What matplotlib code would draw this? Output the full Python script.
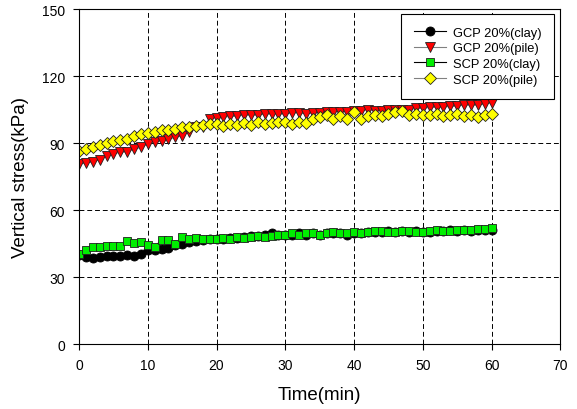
import matplotlib
matplotlib.use("Agg")
import matplotlib.pyplot as plt
import numpy as np

plt.rcParams['font.family'] = ['Liberation Sans', 'DejaVu Sans']

time_min = np.arange(0, 61)

gcp_clay = [40, 38.8, 38.5, 39, 39.5, 39.5, 39.5, 40, 39.5, 40.5, 42,
            42, 42.5, 43, 44.5, 45, 45.5, 46, 46.5, 47, 47,
            47, 47.5, 47.5, 48, 48.5, 48.5, 49, 49.5, 49, 49,
            49, 49.5, 49, 49.5, 49, 49.5, 49.5, 49.5, 49, 49.5,
            49.5, 50, 50, 50, 50.5, 50, 50.5, 50, 50.5, 50,
            50, 50.5, 50.5, 51, 50.5, 51, 50.5, 51, 51, 51]
gcp_pile = [80.6, 81, 81.6, 82.5, 84.3, 85, 86, 86, 87.3, 88, 89.6,
            90.6, 91, 91.8, 92.5, 93.3, 95, 97, 97.4, 100.7, 101.4,
            101.5, 102, 102, 102.5, 102.5, 102.5, 103, 103, 103, 103,
            103.5, 103.5, 103, 103.5, 103.5, 104, 104, 104, 104, 104.5,
            104.5, 105, 104.5, 104.5, 105, 105, 105, 105, 105.5, 105.5,
            106, 106, 106, 106.5, 106.5, 107, 107, 107, 107.5, 108]
scp_clay = [40.3, 42.1, 43.3, 43.6, 44, 44, 44, 46, 45.1, 45.5, 44.5,
            43.6, 46.6, 46.6, 44.8, 48, 47, 47.5, 47, 47, 47,
            47.5, 47, 48, 47.5, 48, 48.5, 48, 48.5, 49, 49,
            49.5, 49, 49.5, 49.5, 49, 49.5, 50, 49.5, 49.5, 50,
            49.5, 50, 50.5, 50.5, 50, 50, 50.5, 50.5, 50, 50,
            50.5, 51, 50.5, 50.5, 51, 51, 51, 51.5, 51.5, 52]
scp_pile = [86.6, 87.3, 88, 89, 90.2, 91, 91.5, 92, 93, 94, 94.5,
            95, 96, 96, 96.5, 97, 97, 97.5, 98, 98.5, 98.5,
            97.5, 98.5, 98, 99, 98, 99.5, 98.5, 99, 99.5, 99.3,
            98.5, 99.5, 99, 100.8, 101.5, 102.5, 100.8, 102, 100.8, 104,
            100.8, 102, 102.5, 102.2, 103, 103.8, 104.5, 102.5, 103, 102.5,
            102.5, 103, 102, 102.5, 103, 102, 102.5, 101.5, 102.5, 103]

labels = ['GCP 20%(clay)', 'GCP 20%(pile)', 'SCP 20%(clay)', 'SCP 20%(pile)']

fig = plt.figure(figsize=(5.77, 4.10), dpi=100)
ax = fig.add_axes([0.137, 0.1585, 0.834, 0.817])

ax.plot(time_min, gcp_clay, color='black', lw=0.8, marker='o', ms=6.5,
        mfc='black', mec='black', mew=0.6, label=labels[0])
ax.plot(time_min, gcp_pile, color='#808080', lw=0.8, marker='v', ms=7,
        mfc='red', mec='#202020', mew=0.6, label=labels[1])
ax.plot(time_min, scp_clay, color='black', lw=0.8, marker='s', ms=6.3,
        mfc='#00ee00', mec='#202020', mew=0.6, label=labels[2])
ax.plot(time_min, scp_pile, color='#808080', lw=0.8, marker='D', ms=6.5,
        mfc='yellow', mec='#202020', mew=0.6, label=labels[3])

ax.set_xlim(0, 70)
ax.set_ylim(0, 150)
ax.set_xticks(np.arange(0, 71, 10))
ax.set_yticks(np.arange(0, 151, 30))
ax.tick_params(direction='out', length=4, width=0.8, labelsize=10, pad=6)
ax.grid(True, color='black', linestyle=(0, (5, 3)), linewidth=0.7)
ax.set_axisbelow(True)
for s in ax.spines.values():
    s.set_linewidth(0.8)

ax.set_xlabel('Time(min)', fontsize=13.5, labelpad=10)
ax.set_ylabel('Vertical stress(kPa)', fontsize=13.5, labelpad=9)

leg = ax.legend(loc='upper right', bbox_to_anchor=(0.99, 0.99), fontsize=9.3,
                frameon=True, fancybox=False, shadow=False, framealpha=1,
                edgecolor='black', handlelength=2.5, borderpad=1.0,
                labelspacing=0.28, handletextpad=0.5, borderaxespad=0.1)
leg.get_frame().set_linewidth(0.8)

fig.savefig('out.png', dpi=100)
